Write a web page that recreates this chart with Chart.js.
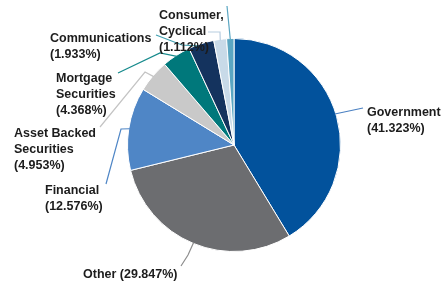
<!DOCTYPE html>
<html>
<head>
<meta charset="utf-8">
<script src="https://cdn.jsdelivr.net/npm/chart.js@4.4.0/dist/chart.umd.min.js"></script>
<style>
  html, body { margin: 0; padding: 0; background: #fff; }
  #wrap { width: 445px; height: 286px; position: relative; }
</style>
</head>
<body>
<div id="wrap"><canvas id="sectorChart"></canvas></div>
<script>
// Sector weights, clockwise from 12 o'clock
const categories = ['Government', 'Other', 'Financial', 'Asset Backed Securities',
                    'Mortgage Securities', 'Unlabeled', 'Communications', 'Consumer, Cyclical'];
const weights = [41.323, 29.847, 12.576, 4.953, 4.368, 3.888, 1.933, 1.112];
const sliceColors = ['#02529c', '#6c6d70', '#4f86c6', '#c9c9c9',
                     '#00787b', '#14335e', '#c8dae8', '#5aa6c2'];

// label text lines (null = no label on that slice)
const labelLines = [
    ['Government', '(41.323%)'],
    ['Other (29.847%)'],
    ['Financial', '(12.576%)'],
    ['Asset Backed', 'Securities', '(4.953%)'],
    ['Mortgage', 'Securities', '(4.368%)'],
    ['Communications', '(1.933%)'],
    ['Consumer,', 'Cyclical', '(1.112%)'],
    null
];

// where each label sits and how its leader line runs to the pie
// slice = which arc the leader ends on, frac = where along that arc
const callouts = [
    { x: 367, y: 116, slice: 0, frac: 0.49, path: [[363, 108]], color: '#4a80c2' },
    { x: 83,  y: 278, slice: 1, frac: 0.5,  path: [[181, 266], [188, 255]], color: '#8d8d8d' },
    { x: 45,  y: 194, slice: 2, frac: 0.5,  path: [[106, 184], [121, 129]], color: '#4f86c6' },
    { x: 14,  y: 137, slice: 3, frac: 0.5,  path: [[100, 127], [145, 72]], color: '#c4c4c4' },
    { x: 56,  y: 82,  slice: 4, frac: 0.5,  path: [[118, 73], [160, 53]], color: '#168a8c' },
    { x: 50,  y: 42,  slice: 5, frac: 0.35, path: [[156, 35], [182, 45]], color: '#3f9fb0' },
    { x: 159, y: 19,  slice: 6, frac: 0.5,  path: [[208, 32], [220, 32]], color: '#b8cde0' },
    { x: 0,   y: 0,   slice: 7, frac: 0.5,  path: [[227, 6]], color: '#5aa6c2' }
];

const calloutPlugin = {
    id: 'callouts',
    afterDatasetsDraw(chart) {
        const ctx = chart.ctx;
        const arcs = chart.getDatasetMeta(0).data;
        ctx.save();
        callouts.forEach((c, i) => {
            const arc = arcs[c.slice];
            const ang = arc.startAngle + (arc.endAngle - arc.startAngle) * c.frac;
            const ex = arc.x + Math.cos(ang) * (arc.outerRadius - 1);
            const ey = arc.y + Math.sin(ang) * (arc.outerRadius - 1);
            ctx.strokeStyle = c.color;
            ctx.lineWidth = 1.2;
            ctx.beginPath();
            ctx.moveTo(c.path[0][0], c.path[0][1]);
            c.path.slice(1).forEach(p => ctx.lineTo(p[0], p[1]));
            ctx.lineTo(ex, ey);
            ctx.stroke();
        });
        ctx.fillStyle = '#1c1c1c';
        ctx.font = 'bold 12.5px "Liberation Sans", Arial, sans-serif';
        ctx.textBaseline = 'alphabetic';
        ctx.textAlign = 'left';
        callouts.forEach((c, i) => {
            const lines = labelLines[i];
            if (!lines) return;
            lines.forEach((t, j) => ctx.fillText(t, c.x, c.y + j * 15.8));
        });
        ctx.restore();
    }
};

const ctx = document.getElementById('sectorChart').getContext('2d');
const sectorChart = new Chart(ctx, {
    type: 'pie',
    data: {
        labels: categories,
        datasets: [{
            data: weights,
            backgroundColor: sliceColors,
            borderColor: '#ffffff',
            borderWidth: 1
        }]
    },
    options: {
        responsive: true,
        maintainAspectRatio: false,
        animation: false,
        layout: { padding: { top: 38, bottom: 34, left: 127, right: 104 } },
        plugins: {
            legend: { display: false },
            tooltip: { enabled: false }
        }
    },
    plugins: [calloutPlugin]
});
</script>
</body>
</html>
